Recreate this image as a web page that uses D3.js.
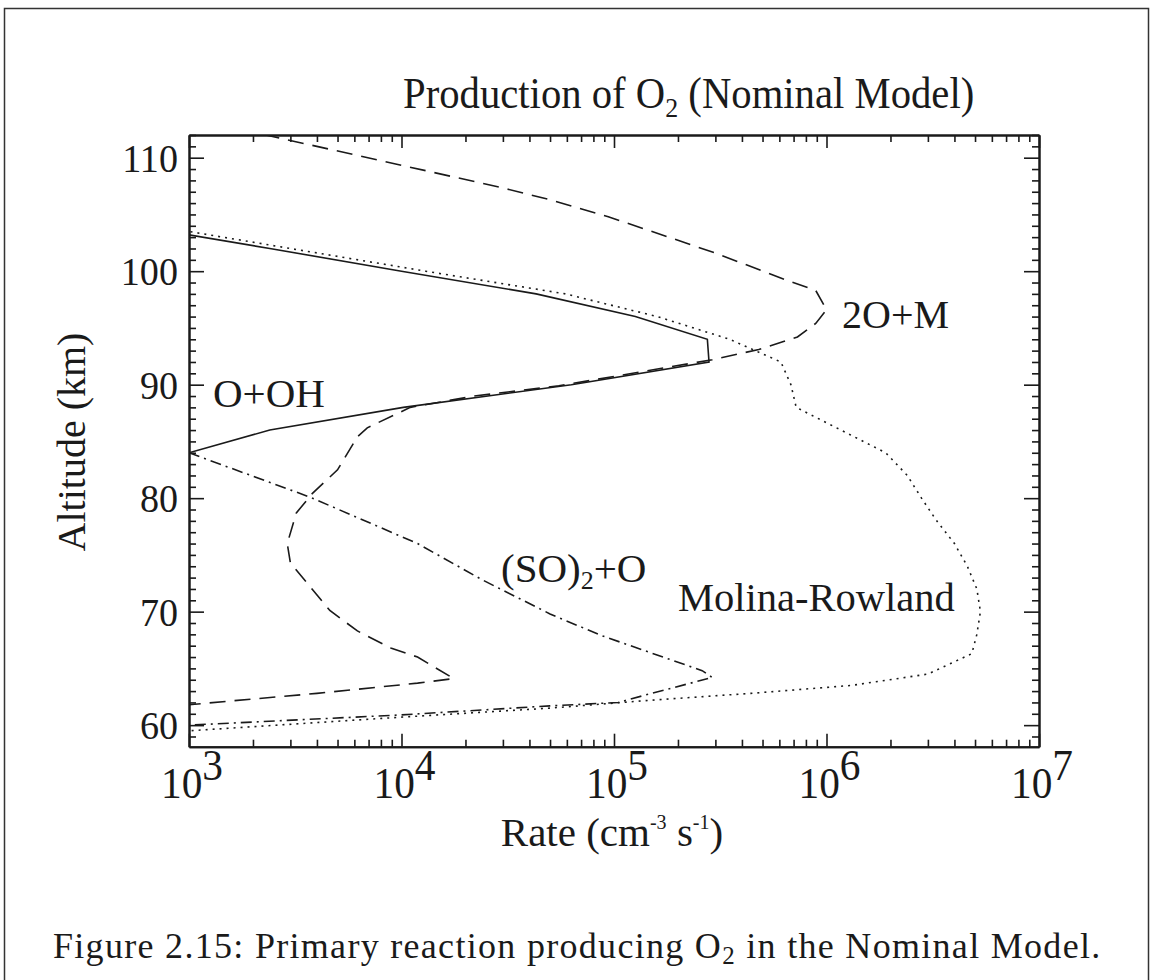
<!DOCTYPE html>
<html>
<head>
<meta charset="utf-8">
<script src="https://cdn.jsdelivr.net/npm/d3@7"></script>
<style>
  html, body { margin: 0; padding: 0; background: #fff; }
  svg { display: block; }
  text { font-family: "Liberation Serif", "Times New Roman", serif; fill: #1a1a1a; }
</style>
</head>
<body>
<svg id="chart" width="1153" height="980"></svg>
<script>
// ---------- data ----------
const xTickExponents = [3, 4, 5, 6, 7];
const yTickLabels = [60, 70, 80, 90, 100, 110];

// O+OH (solid)
const ohAlt  = [104, 102, 100, 98, 96, 94, 92, 90, 88, 86, 84];
const ohRate = [5.6e2, 2.4e3, 1.0e4, 4.3e4, 1.26e5, 2.75e5, 2.8e5, 6.3e4, 1.02e4, 2.4e3, 1.0e3];

// 2O+M (dashed)
const omAlt  = [114, 112.0, 107.4, 106.3, 104.8, 101.6, 99.2, 98.3, 96.6, 95.4, 94.2, 93.1, 92.2,
                89.9, 89.0, 88.0, 86.2, 85.4, 82.5, 80.4, 78.7, 76.0, 74.3, 70.1, 68.3, 66.8, 66.0,
                64.1, 63.7, 62.8, 61.8];
const omRate = [7.8e2, 2.3e3, 2.9e4, 5.0e4, 9.4e4, 3.0e5, 6.5e5, 8.9e5, 1.0e6, 8.9e5, 7.3e5, 4.8e5, 2.9e5,
                5.5e4, 2.2e4, 1.1e4, 6.9e3, 6.2e3, 5.0e3, 3.8e3, 3.2e3, 2.9e3, 3.0e3, 4.6e3, 6.2e3, 8.9e3, 1.19e4,
                1.76e4, 1.19e4, 4.0e3, 1.0e3];

// (SO)2+O (dash-dot)
const soAlt  = [84.0, 80.1, 76.0, 72.8, 69.8, 67.9, 64.8, 64.2, 62.8, 62.0, 61.7, 60.9, 60.0];
const soRate = [1.0e3, 3.7e3, 1.19e4, 2.4e4, 5.0e4, 8.7e4, 2.6e5, 2.9e5, 1.5e5, 1.05e5, 5.0e4, 9.9e3, 1.0e3];

// Molina-Rowland (dotted)
const mrAlt  = [104, 103.5, 102, 100, 98, 96, 94, 92, 90, 88, 86, 84, 82, 80, 78, 76, 74, 72, 70, 68,
                66.3, 64.5, 63.5, 62.8, 62.2, 61.5, 60.7, 59.5];
const mrRate = [6.0e2, 1.0e3, 3.0e3, 1.3e4, 5.9e4, 1.6e5, 3.5e5, 6.1e5, 6.8e5, 7.2e5, 1.17e6, 1.9e6, 2.4e6, 2.8e6, 3.3e6, 4.0e6, 4.6e6, 5.1e6, 5.3e6, 5.1e6,
                4.83e6, 3.0e6, 1.31e6, 4.4e5, 1.5e5, 5.0e4, 9.9e3, 1.0e3];

const seriesLabels = ["O+OH", "2O+M", "(SO)", "Molina-Rowland"];

// ---------- drawing ----------
const svg = d3.select("#chart");
const ink = "#1a1a1a";

// outer page frame
svg.append("rect")
  .attr("x", 4.5).attr("y", 8.5).attr("width", 1144).attr("height", 1100)
  .attr("fill", "none").attr("stroke", "#333").attr("stroke-width", 1.5);

const x = d3.scaleLog().domain([1e3, 1e7]).range([189, 1039]);
const y = d3.scaleLinear().domain([58.1, 112]).range([746.7, 135]);

svg.append("defs").append("clipPath").attr("id", "plotclip")
  .append("rect")
  .attr("x", x.range()[0]).attr("y", y.range()[1])
  .attr("width", x.range()[1] - x.range()[0])
  .attr("height", y.range()[0] - y.range()[1]);

const xMajor = xTickExponents.map(e => Math.pow(10, e));
const xMinor = [];
for (let e = 3; e < 7; e++) for (let k = 2; k <= 9; k++) xMinor.push(k * Math.pow(10, e));
const yMajor = yTickLabels;
const yMinor = d3.range(59, 113).filter(v => v % 10 !== 0);

function styleAxis(g) {
  g.selectAll("path").attr("stroke", ink).attr("stroke-width", 2);
  g.selectAll("line").attr("stroke", ink).attr("stroke-width", 1.6);
  g.selectAll("text").remove();
}

const x0 = x.range()[0], x1 = x.range()[1], y0 = y.range()[0], y1 = y.range()[1];

svg.append("g").attr("transform", `translate(0,${y0})`)
  .call(d3.axisBottom(x).tickValues(xMinor).tickSize(-7).tickSizeOuter(0).tickFormat("")).call(styleAxis);
svg.append("g").attr("transform", `translate(0,${y0})`)
  .call(d3.axisBottom(x).tickValues(xMajor).tickSize(-13).tickSizeOuter(0).tickFormat("")).call(styleAxis);
svg.append("g").attr("transform", `translate(0,${y1})`)
  .call(d3.axisTop(x).tickValues(xMinor).tickSize(-7).tickSizeOuter(0).tickFormat("")).call(styleAxis);
svg.append("g").attr("transform", `translate(0,${y1})`)
  .call(d3.axisTop(x).tickValues(xMajor).tickSize(-13).tickSizeOuter(0).tickFormat("")).call(styleAxis);
svg.append("g").attr("transform", `translate(${x0},0)`)
  .call(d3.axisLeft(y).tickValues(yMinor).tickSize(-7).tickSizeOuter(0).tickFormat("")).call(styleAxis);
svg.append("g").attr("transform", `translate(${x0},0)`)
  .call(d3.axisLeft(y).tickValues(yMajor).tickSize(-15).tickSizeOuter(0).tickFormat("")).call(styleAxis);
svg.append("g").attr("transform", `translate(${x1},0)`)
  .call(d3.axisRight(y).tickValues(yMinor).tickSize(-7).tickSizeOuter(0).tickFormat("")).call(styleAxis);
svg.append("g").attr("transform", `translate(${x1},0)`)
  .call(d3.axisRight(y).tickValues(yMajor).tickSize(-15).tickSizeOuter(0).tickFormat("")).call(styleAxis);

// y tick labels
svg.append("g").selectAll("text").data(yMajor).join("text")
  .attr("transform", d => `translate(${x0 - 11},${y(d) + 14}) scale(0.93,1)`)
  .attr("text-anchor", "end").attr("font-size", 41)
  .text(d => d);

// x tick labels 10^n
const xl = svg.append("g").selectAll("text").data(xTickExponents).join("text")
  .attr("transform", d => `translate(${x(Math.pow(10, d)) + 3},798) scale(0.94,1)`)
  .attr("text-anchor", "middle").attr("font-size", 44);
xl.append("tspan").text("10");
xl.append("tspan").attr("dy", -18).text(d => d);

// axis titles
const xt = svg.append("text").attr("x", 612).attr("y", 846)
  .attr("text-anchor", "middle").attr("font-size", 41);
xt.append("tspan").text("Rate (cm");
xt.append("tspan").attr("font-size", 20).attr("dy", -17).text("-3");
xt.append("tspan").attr("dy", 17).text(" s");
xt.append("tspan").attr("font-size", 20).attr("dy", -17).text("-1");
xt.append("tspan").attr("dy", 17).text(")");

svg.append("text")
  .attr("transform", "translate(85,442) rotate(-90)")
  .attr("text-anchor", "middle").attr("font-size", 40)
  .text("Altitude (km)");

// chart title
const tt = svg.append("text")
  .attr("transform", "translate(403,108) scale(0.925,1)")
  .attr("font-size", 44);
tt.append("tspan").text("Production of O");
tt.append("tspan").attr("font-size", 28).attr("dy", 9).text("2");
tt.append("tspan").attr("dy", -9).text(" (Nominal Model)");

// caption
const cap = svg.append("text").attr("x", 53).attr("y", 958).attr("font-size", 36)
  .attr("letter-spacing", 1.3);
cap.append("tspan").text("Figure 2.15: Primary reaction producing O");
cap.append("tspan").attr("font-size", 25).attr("dy", 6).text("2");
cap.append("tspan").attr("dy", -6).text(" in the Nominal Model.");

// series lines
const line = d3.line().x(d => x(d[1])).y(d => y(d[0]));
const zip = (a, b) => a.map((v, i) => [v, b[i]]);
const plot = svg.append("g").attr("clip-path", "url(#plotclip)");
const series = [
  { alt: ohAlt, rate: ohRate, dash: null },
  { alt: omAlt, rate: omRate, dash: "16,9" },
  { alt: soAlt, rate: soRate, dash: "11,5,2,5" },
  { alt: mrAlt, rate: mrRate, dash: "2,5" }
];
series.forEach(s => {
  plot.append("path")
    .datum(zip(s.alt, s.rate))
    .attr("d", line)
    .attr("fill", "none")
    .attr("stroke", ink)
    .attr("stroke-width", 1.6)
    .attr("stroke-dasharray", s.dash);
});

// series labels
svg.append("text").attr("x", 213).attr("y", 407).attr("font-size", 41).text(seriesLabels[0]);
svg.append("text").attr("x", 842).attr("y", 328).attr("font-size", 40).text(seriesLabels[1]);
const so = svg.append("text").attr("x", 501).attr("y", 582).attr("font-size", 41);
so.append("tspan").text(seriesLabels[2]);
so.append("tspan").attr("font-size", 26).attr("dy", 7).text("2");
so.append("tspan").attr("dy", -7).text("+O");
svg.append("text").attr("x", 678).attr("y", 611).attr("font-size", 40.5).text(seriesLabels[3]);
</script>
</body>
</html>
